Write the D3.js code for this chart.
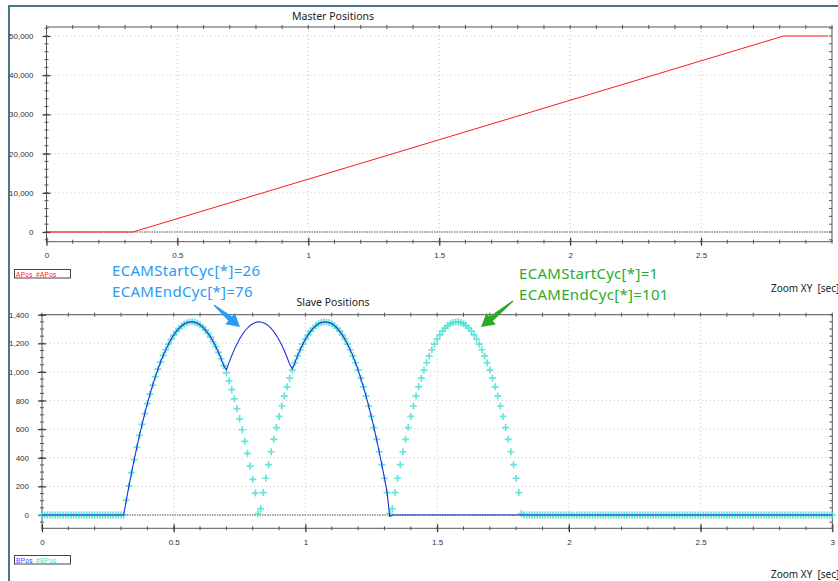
<!DOCTYPE html>
<html>
<head>
<meta charset="utf-8">
<script src="https://cdn.jsdelivr.net/npm/d3@7"></script>
<style>
  body { margin: 0; background: #fff; }
  svg { display: block; }
  .tick text { font-family: "Liberation Sans", Arial, sans-serif; font-size: 8px; fill: #333; }
</style>
</head>
<body>
<script>
            // Master Positions (top chart)
            var masterTimes = [0, 0.33, 2.815, 2.985];
            var masterValues = [0, 0, 50000, 50000];

            // Slave Positions (bottom chart), one sample every 10 ms from 0 to 3 s
            var sampleTimes = d3.range(301).map(function(i) { return i / 100; });

            // #BPos (cyan markers)
            var bPosRef = [
                0, 0, 0, 0, 0, 0, 0, 0, 0, 0, 0, 0, 0, 0, 0, 0, 0, 0, 0, 0,
                0, 0, 0, 0, 0, 0, 0, 0, 0, 0, 0, 0,
                103, 202, 296, 387, 473, 556, 634, 709, 779, 845, 907, 965, 1019, 1069, 1115, 1156,
                1194, 1228, 1257, 1283, 1304, 1321, 1335, 1344, 1349, 1350, 1347, 1340, 1329, 1313,
                1294, 1270, 1243, 1211, 1176, 1136, 1092, 1044, 993, 937, 876, 812, 744, 672, 596,
                515, 431, 342, 249, 153, 10,
                45, 157, 257, 352, 442, 529, 611, 689, 762, 831, 896, 956, 1013, 1064, 1112, 1155,
                1194, 1229, 1259, 1285, 1306, 1324, 1337, 1345, 1349, 1349, 1345, 1337, 1324, 1306,
                1285, 1259, 1229, 1194, 1155, 1112, 1064, 1013, 956, 896, 831, 762, 689, 611, 529,
                442, 352, 257, 157, 10,
                45, 157, 257, 352, 442, 529, 611, 689, 762, 831, 896, 956, 1013, 1064, 1112, 1155,
                1194, 1229, 1259, 1285, 1306, 1324, 1337, 1345, 1349, 1349, 1345, 1337, 1324, 1306,
                1285, 1259, 1229, 1194, 1155, 1112, 1064, 1013, 956, 896, 831, 762, 689, 611, 529,
                442, 352, 257, 157, 10,
                0, 0, 0, 0, 0, 0, 0, 0, 0, 0, 0, 0, 0, 0, 0, 0, 0, 0, 0, 0,
                0, 0, 0, 0, 0, 0, 0, 0, 0, 0, 0, 0, 0, 0, 0, 0, 0, 0, 0, 0,
                0, 0, 0, 0, 0, 0, 0, 0, 0, 0, 0, 0, 0, 0, 0, 0, 0, 0, 0, 0,
                0, 0, 0, 0, 0, 0, 0, 0, 0, 0, 0, 0, 0, 0, 0, 0, 0, 0, 0, 0,
                0, 0, 0, 0, 0, 0, 0, 0, 0, 0, 0, 0, 0, 0, 0, 0, 0, 0, 0, 0,
                0, 0, 0, 0, 0, 0, 0, 0, 0, 0, 0, 0, 0, 0, 0, 0, 0, 0
            ];

            // BPos (blue line)
            var bPos = [
                0, 0, 0, 0, 0, 0, 0, 0, 0, 0, 0, 0, 0, 0, 0, 0, 0, 0, 0, 0,
                0, 0, 0, 0, 0, 0, 0, 0, 0, 0, 0, 0,
                103, 202, 296, 387, 473, 556, 634, 709, 779, 845, 907, 965, 1019, 1069, 1115, 1156,
                1194, 1228, 1257, 1283, 1304, 1321, 1335, 1344, 1349, 1350, 1347, 1340, 1329, 1313,
                1294, 1270, 1243, 1211, 1176, 1136, 1092, 1044,
                1015, 1065, 1113, 1156, 1195, 1230, 1260, 1286, 1307, 1325, 1337, 1346, 1350, 1349,
                1344, 1335, 1322, 1304, 1281, 1254, 1223, 1188, 1148, 1103, 1055, 1020,
                1064, 1112, 1155, 1194, 1229, 1259, 1285, 1306, 1324, 1337, 1345, 1349, 1349, 1345,
                1337, 1324, 1306, 1285, 1259, 1229, 1194, 1155, 1112, 1064, 1013, 956, 896, 831, 762,
                689, 611, 529, 442, 352, 257, 157, -10,
                0, 0, 0, 0, 0, 0, 0, 0, 0, 0, 0, 0, 0, 0, 0, 0, 0, 0, 0, 0,
                0, 0, 0, 0, 0, 0, 0, 0, 0, 0, 0, 0, 0, 0, 0, 0, 0, 0, 0, 0,
                0, 0, 0, 0, 0, 0, 0, 0, 0, 0, 0, 0, 0, 0, 0, 0, 0, 0, 0, 0,
                0, 0, 0, 0, 0, 0, 0, 0, 0, 0, 0, 0, 0, 0, 0, 0, 0, 0, 0, 0,
                0, 0, 0, 0, 0, 0, 0, 0, 0, 0, 0, 0, 0, 0, 0, 0, 0, 0, 0, 0,
                0, 0, 0, 0, 0, 0, 0, 0, 0, 0, 0, 0, 0, 0, 0, 0, 0, 0, 0, 0,
                0, 0, 0, 0, 0, 0, 0, 0, 0, 0, 0, 0, 0, 0, 0, 0, 0, 0, 0, 0,
                0, 0, 0, 0, 0, 0, 0, 0, 0, 0, 0, 0, 0, 0, 0, 0, 0, 0, 0, 0,
                0, 0, 0, 0, 0, 0, 0, 0
            ];

            var topTickLabels = [0, 0.5, 1, 1.5, 2, 2.5];
            var botTickLabels = [0, 0.5, 1, 1.5, 2, 2.5, 3];

            var w = 838;
            var h = 581;

            var svg = d3.select("body")
                        .append("svg")
                        .attr("width", w)
                        .attr("height", h);

            // window frame
            svg.append("line").attr("x1", 8).attr("x2", w).attr("y1", 6).attr("y2", 6)
               .attr("stroke", "#47788a").attr("stroke-width", 2);
            svg.append("line").attr("x1", 9).attr("x2", 9).attr("y1", 6).attr("y2", h)
               .attr("stroke", "#47788a").attr("stroke-width", 2);

            var fmt = d3.format(",");

            function drawFrame(x, y, xLabels, yMajor, yMinor, title, titleY) {
                var x0 = x.range()[0], x1 = x.range()[1];
                var y0 = y.range()[0], y1 = y.range()[1];
                var g = svg.append("g");

                // grid
                g.selectAll(".vgrid").data(xLabels.filter(function(d) { return d > 0 && d < 3; }))
                  .enter().append("line")
                  .attr("x1", function(d) { return x(d); }).attr("x2", function(d) { return x(d); })
                  .attr("y1", y1).attr("y2", y0)
                  .attr("stroke", "#c4c4c4").attr("stroke-dasharray", "1,3");
                g.selectAll(".hgrid").data(yMajor.filter(function(d) { return d != 0; }))
                  .enter().append("line")
                  .attr("x1", x0).attr("x2", x1)
                  .attr("y1", function(d) { return y(d); }).attr("y2", function(d) { return y(d); })
                  .attr("stroke", "#c4c4c4").attr("stroke-dasharray", "1,3");
                // zero line
                g.append("line").attr("x1", x0).attr("x2", x1).attr("y1", y(0)).attr("y2", y(0))
                  .attr("stroke", "#888").attr("stroke-width", 1.3).attr("stroke-dasharray", "1.5,1");

                // border
                g.append("rect").attr("x", x0).attr("y", y1).attr("width", x1 - x0).attr("height", y0 - y1)
                  .attr("fill", "none").attr("stroke", "#555");

                var xMinor = d3.range(31).map(function(i) { return i / 10; });

                // bottom axis
                var ax = g.append("g").attr("transform", "translate(0," + y0 + ")")
                  .call(d3.axisBottom(x).tickValues(xLabels).tickFormat(d3.format("")).tickSize(4).tickPadding(7));
                ax.select(".domain").remove();
                ax.selectAll(".tick line").attr("y1", -4).attr("stroke", "#333").attr("stroke-width", 1.2);
                g.selectAll(".xminor").data(xMinor).enter().append("line")
                  .attr("x1", function(d) { return x(d); }).attr("x2", function(d) { return x(d); })
                  .attr("y1", y0 - 2).attr("y2", y0 + 2).attr("stroke", "#555");
                // top axis ticks
                g.selectAll(".xtop").data(xMinor).enter().append("line")
                  .attr("x1", function(d) { return x(d); }).attr("x2", function(d) { return x(d); })
                  .attr("y1", y1 - 2).attr("y2", y1 + 2).attr("stroke", "#555");

                // left axis
                var ay = g.append("g").attr("transform", "translate(" + x0 + ",0)")
                  .call(d3.axisLeft(y).tickValues(yMajor).tickFormat(fmt).tickSize(4).tickPadding(9));
                ay.select(".domain").remove();
                ay.selectAll(".tick line").attr("x1", 4).attr("stroke", "#333").attr("stroke-width", 1.2);
                g.selectAll(".yminor").data(yMinor).enter().append("line")
                  .attr("x1", x0 - 2).attr("x2", x0 + 2)
                  .attr("y1", function(d) { return y(d); }).attr("y2", function(d) { return y(d); })
                  .attr("stroke", "#555");
                // right axis ticks
                g.selectAll(".yright").data(yMinor).enter().append("line")
                  .attr("x1", x1 - 3).attr("x2", x1)
                  .attr("y1", function(d) { return y(d); }).attr("y2", function(d) { return y(d); })
                  .attr("stroke", "#555");

                svg.append("text").attr("x", 333).attr("y", titleY).attr("text-anchor", "middle")
                  .style("font-family", "'Noto Sans', sans-serif").style("font-size", "10.5px").style("fill", "#222")
                  .text(title);
            }

            // ---- top chart ----
            var xTop = d3.scaleLinear().domain([0, 3]).range([46.5, 832]);
            var yTop = d3.scaleLinear().domain([-2474, 52296]).range([241.7, 27]);
            drawFrame(xTop, yTop, topTickLabels, d3.range(0, 50001, 10000), d3.range(-2000, 52001, 2000),
                      "Master Positions", 20);

            var masterLine = d3.line()
                .x(function(d, i) { return xTop(masterTimes[i]); })
                .y(function(d) { return yTop(d); });
            svg.append("path").datum(masterValues)
               .attr("d", masterLine).attr("fill", "none").attr("stroke", "#ff1a1a").attr("stroke-width", 1);

            // ---- bottom chart ----
            var xBot = d3.scaleLinear().domain([0, 3]).range([42, 832.3]);
            var yBot = d3.scaleLinear().domain([-93, 1400]).range([528.3, 314.7]);
            drawFrame(xBot, yBot, botTickLabels, d3.range(0, 1401, 200), d3.range(-50, 1401, 50),
                      "Slave Positions", 306);

            // cyan "+" markers
            var marks = svg.append("g");
            marks.selectAll("path")
                 .data(bPosRef)
                 .enter()
                 .append("path")
                 .attr("d", function(d, i) {
                     var cx = xBot(sampleTimes[i]), cy = yBot(d);
                     return "M" + (cx - 3.5) + "," + cy + "H" + (cx + 3.5) + "M" + cx + "," + (cy - 3.5) + "V" + (cy + 3.5);
                 })
                 .attr("stroke", "#40e0d0").attr("stroke-width", 1.7).attr("stroke-opacity", 0.8);

            var slaveLine = d3.line()
                .x(function(d, i) { return xBot(sampleTimes[i]); })
                .y(function(d) { return yBot(d); });
            svg.append("path").datum(bPos)
               .attr("d", slaveLine).attr("fill", "none").attr("stroke", "#1f2de0").attr("stroke-width", 1.1);

            // legend boxes
            function legendBox(y, items) {
                svg.append("rect").attr("x", 14.5).attr("y", y).attr("width", 56).attr("height", 8.5)
                   .attr("fill", "#fff").attr("stroke", "#444");
                items.forEach(function(it) {
                    svg.append("text").attr("x", it.x).attr("y", y + 7).text(it.t)
                       .style("font-family", "'Liberation Sans', Arial, sans-serif").style("font-size", "6.5px")
                       .style("letter-spacing", "0.3px").style("fill", it.c);
                });
            }
            legendBox(269.5, [{ t: "APos", x: 16, c: "#ff2020" }, { t: "#APos", x: 36, c: "#ff2020" }]);
            legendBox(555.5, [{ t: "BPos", x: 16, c: "#3344ff" }, { t: "#BPos", x: 36, c: "#40dfcc" }]);

            // axis unit labels
            [291.5, 578].forEach(function(yy) {
                svg.append("text").attr("x", 771).attr("y", yy).text("Zoom XY  [sec]")
                   .attr("xml:space", "preserve")
                   .style("font-family", "'Noto Sans', sans-serif").style("font-size", "10px").style("fill", "#222");
            });

            // annotations
            var blueNote = "#2b9af3", greenNote = "#2aac2a";
            function note(x, y, t, c) {
                svg.append("text").attr("x", x).attr("y", y).text(t)
                   .style("font-family", "'Noto Sans', sans-serif").style("font-size", "15px")
                   .style("letter-spacing", "0.3px").style("fill", c);
            }
            note(112, 276, "ECAMStartCyc[*]=26", blueNote);
            note(112, 296.5, "ECAMEndCyc[*]=76", blueNote);
            note(519, 279, "ECAMStartCyc[*]=1", greenNote);
            note(519, 299.5, "ECAMEndCyc[*]=101", greenNote);

            function arrow(x0, y0, x1, y1, c) {
                var dx = x1 - x0, dy = y1 - y0, len = Math.sqrt(dx * dx + dy * dy);
                var ux = dx / len, uy = dy / len, px = -uy, py = ux;
                var hl = 13, hw = 7.5, sw0 = 0.6, sw1 = 2.8;
                var bx = x1 - ux * hl, by = y1 - uy * hl;
                var pts = [
                    [x0 + px * sw0, y0 + py * sw0],
                    [bx + px * sw1, by + py * sw1],
                    [bx + px * hw, by + py * hw],
                    [x1, y1],
                    [bx - px * hw, by - py * hw],
                    [bx - px * sw1, by - py * sw1],
                    [x0 - px * sw0, y0 - py * sw0]
                ];
                svg.append("path").attr("d", "M" + pts.join("L") + "Z").attr("fill", c);
            }
            arrow(214, 305, 240, 327, blueNote);
            arrow(513, 301, 481, 327, greenNote);
</script>
</body>
</html>
